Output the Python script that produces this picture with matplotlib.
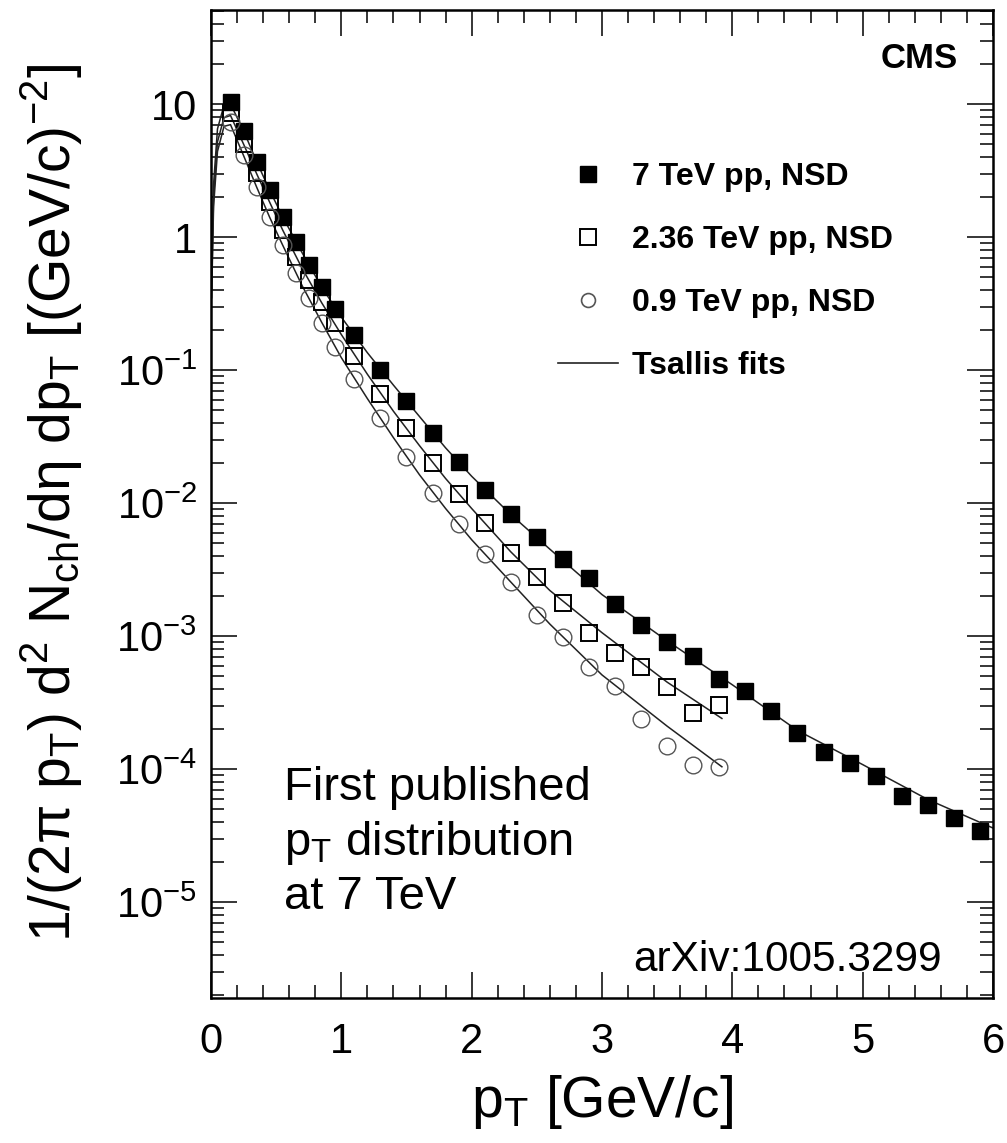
import numpy as np
import matplotlib.pyplot as plt
from matplotlib.lines import Line2D
from matplotlib.ticker import MultipleLocator, LogLocator, NullFormatter

plt.rcParams['font.family'] = ['Liberation Sans', 'DejaVu Sans']
plt.rcParams['mathtext.fontset'] = 'custom'
plt.rcParams['mathtext.rm'] = 'Liberation Sans'

# pT bin centres (GeV/c)
pt_7 = [0.15, 0.25, 0.35, 0.45, 0.55, 0.65, 0.75, 0.85, 0.95, 1.1, 1.3, 1.5, 1.7, 1.9,
        2.1, 2.3, 2.5, 2.7, 2.9, 3.1, 3.3, 3.5, 3.7, 3.9, 4.1, 4.3, 4.5, 4.7, 4.9,
        5.1, 5.3, 5.5, 5.7, 5.9]
pt_low = [0.15, 0.25, 0.35, 0.45, 0.55, 0.65, 0.75, 0.85, 0.95, 1.1, 1.3, 1.5, 1.7, 1.9,
          2.1, 2.3, 2.5, 2.7, 2.9, 3.1, 3.3, 3.5, 3.7, 3.9]

y_7 = [10.4, 6.3, 3.66, 2.25, 1.41, 0.91, 0.62, 0.42, 0.29, 0.183, 0.100, 0.059, 0.0336, 0.0203,
       0.01253, 0.00826, 0.00555, 0.00379, 0.00273, 0.00174, 0.00121, 0.000902, 0.000708, 0.000475,
       0.000386, 0.000273, 0.000187, 0.000134, 0.000111, 8.86e-5, 6.27e-5, 5.36e-5, 4.28e-5, 3.42e-5]
y_236 = [8.56, 5.0, 3.03, 1.83, 1.13, 0.708, 0.475, 0.325, 0.226, 0.127, 0.066, 0.0366, 0.0200, 0.0117,
         0.00708, 0.00421, 0.00278, 0.00177, 0.00105, 0.000745, 0.000585, 0.000414, 0.000264, 0.000303]
y_09 = [7.3, 4.14, 2.38, 1.41, 0.871, 0.536, 0.347, 0.226, 0.149, 0.0855, 0.0435, 0.0222, 0.0119, 0.00695,
        0.00414, 0.00255, 0.00144, 0.000982, 0.000585, 0.000421, 0.000238, 0.000149, 0.000107, 0.000103]

# Tsallis fit curves, nodes
fit_pt_7 = [0.005, 0.02, 0.05, 0.1, 0.15, 0.25, 0.35, 0.45, 0.55, 0.7, 0.85, 1.0, 1.2, 1.4, 1.6,
            1.8, 2.0, 2.3, 2.6, 3.0, 3.5, 4.0, 4.5, 5.0, 5.5, 6.0]
fit_7 = [0.5, 2.5, 6.5, 9.8, 10.0, 6.3, 3.7, 2.25, 1.42, 0.76, 0.42, 0.25, 0.135, 0.077, 0.0447,
         0.026, 0.0159, 0.0082, 0.0045, 0.00205, 0.00092, 0.00043, 0.000195, 0.000108, 5.9e-5, 3.6e-5]
fit_pt_low = [0.005, 0.02, 0.05, 0.1, 0.15, 0.25, 0.35, 0.45, 0.55, 0.7, 0.85, 1.0, 1.2, 1.4, 1.6,
              1.8, 2.0, 2.3, 2.6, 3.0, 3.5, 3.92]
fit_236 = [0.4, 2.0, 5.2, 7.9, 8.2, 5.0, 3.0, 1.83, 1.13, 0.58, 0.32, 0.185, 0.093, 0.049, 0.027,
           0.0153, 0.0091, 0.0043, 0.0022, 0.00106, 0.00045, 0.00024]
fit_09 = [0.35, 1.7, 4.4, 6.8, 7.0, 4.1, 2.38, 1.41, 0.87, 0.43, 0.228, 0.124, 0.061, 0.031, 0.0163,
          0.0091, 0.0053, 0.00255, 0.00123, 0.00051, 0.00021, 0.000104]

y_ticks = [1e-5, 1e-4, 1e-3, 1e-2, 1e-1, 1, 10]
y_tick_labels = [r'10$^{\mathregular{-5}}$', r'10$^{\mathregular{-4}}$', r'10$^{\mathregular{-3}}$',
                 r'10$^{\mathregular{-2}}$', r'10$^{\mathregular{-1}}$', '1', '10']

fig = plt.figure(figsize=(10.07, 11.43), dpi=100)
ax = fig.add_axes([0.2095, 0.1269, 0.7766, 0.8644])

# fits first so the markers sit on top
ax.plot(fit_pt_7, fit_7, color='#222222', lw=1.1, zorder=2)
ax.plot(fit_pt_low, fit_236, color='#222222', lw=1.1, zorder=2)
ax.plot(fit_pt_low, fit_09, color='#222222', lw=1.1, zorder=2)

ax.plot(pt_7, y_7, 's', ms=12, color='black', zorder=3)
ax.plot(pt_low, y_236, 's', ms=12, mfc='none', mec='black', mew=1.4, zorder=3)
ax.plot(pt_low, y_09, 'o', ms=12, mfc='none', mec='#555555', mew=1.0, zorder=3)

ax.set_yscale('log')
ax.set_xlim(0, 6)
ax.set_ylim(1.9e-6, 51)

ax.xaxis.set_major_locator(MultipleLocator(1))
ax.xaxis.set_minor_locator(MultipleLocator(0.2))
ax.set_yticks(y_ticks)
ax.set_yticklabels(y_tick_labels)
ax.yaxis.set_minor_locator(LogLocator(base=10, subs=np.arange(2, 10)))
ax.yaxis.set_minor_formatter(NullFormatter())

ax.tick_params(which='both', direction='in', top=True, right=True, width=1.1)
ax.tick_params(which='major', length=19, labelsize=30)
ax.tick_params(which='minor', length=9.5)
ax.tick_params(axis='x', pad=17)
ax.tick_params(axis='y', pad=10)
for s in ax.spines.values():
    s.set_linewidth(1.8)

ax.set_xlabel(r'p$_\mathregular{T}$ [GeV/c]', fontsize=41, labelpad=8)
fig.text(52 / 1007, 1 - 503 / 1143,
         r'1/(2π p$_\mathregular{T}$) d$^\mathregular{2}$ N$_\mathregular{ch}$/dη dp$_\mathregular{T}$ [(GeV/c)$^\mathregular{-2}$]',
         rotation=90, ha='center', va='center', fontsize=41)

# legend
handles = [Line2D([], [], ls='none', marker='s', ms=11, color='black'),
           Line2D([], [], ls='none', marker='s', ms=11, mfc='none', mec='black', mew=1.4),
           Line2D([], [], ls='none', marker='o', ms=10, mfc='none', mec='#555555', mew=1.2),
           Line2D([], [], color='#222222', lw=1.2)]
labels = ['7 TeV pp, NSD', '2.36 TeV pp, NSD', '0.9 TeV pp, NSD', 'Tsallis fits']
ax.legend(handles, labels, loc='upper left', bbox_to_anchor=(0.4437, 0.8463), frameon=False,
          borderpad=0, borderaxespad=0, handlelength=1.88, handletextpad=0.44, labelspacing=1.04,
          prop={'weight': 'bold', 'size': 23})

ax.text(0.955, 0.951, 'CMS', transform=ax.transAxes, ha='right', va='center',
        fontsize=25, fontweight='bold')
ax.text(0.093, 0.157, 'First published\np$_\\mathregular{T}$ distribution\nat 7 TeV',
        transform=ax.transAxes, ha='left', va='center', fontsize=34, linespacing=1.24)
ax.text(0.935, 0.0385, 'arXiv:1005.3299', transform=ax.transAxes, ha='right', va='center',
        fontsize=30.5)

fig.savefig('out.png', dpi=100)
